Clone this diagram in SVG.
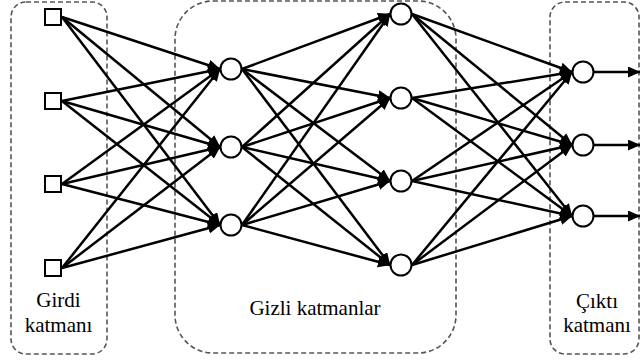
<svg xmlns="http://www.w3.org/2000/svg" width="640" height="360" viewBox="0 0 640 360">
<defs>
<marker id="ah" markerUnits="userSpaceOnUse" markerWidth="14" markerHeight="12" refX="12" refY="5.5" orient="auto">
<path d="M0,0 L12.5,5.5 L0,11 Z" fill="#000"/>
</marker>
<style>
.grp{fill:none;stroke:#555;stroke-width:1.6;stroke-dasharray:5,3}
.c{stroke:#000;stroke-width:2.5;fill:none;marker-end:url(#ah)}
.n{fill:#fff;stroke:#000;stroke-width:2}
.t{font-size:21px;fill:#000;text-anchor:middle}
</style>
</defs>
<rect width="640" height="360" fill="#fff"/>
<g id="groups">
<rect class="grp" x="11" y="2" width="96" height="352" rx="15"/>
<rect class="grp" x="175" y="1" width="281" height="352" rx="38"/>
<rect class="grp" x="550" y="2" width="89" height="352" rx="15"/>
</g>
<g id="connectors">
<line class="c" x1="62" y1="17" x2="220" y2="69"/>
<line class="c" x1="62" y1="17" x2="220" y2="147"/>
<line class="c" x1="62" y1="17" x2="220" y2="225"/>
<line class="c" x1="62" y1="101" x2="220" y2="69"/>
<line class="c" x1="62" y1="101" x2="220" y2="147"/>
<line class="c" x1="62" y1="101" x2="220" y2="225"/>
<line class="c" x1="62" y1="184" x2="220" y2="69"/>
<line class="c" x1="62" y1="184" x2="220" y2="147"/>
<line class="c" x1="62" y1="184" x2="220" y2="225"/>
<line class="c" x1="62" y1="268" x2="220" y2="69"/>
<line class="c" x1="62" y1="268" x2="220" y2="147"/>
<line class="c" x1="62" y1="268" x2="220" y2="225"/>
<line class="c" x1="242" y1="69" x2="390" y2="14"/>
<line class="c" x1="242" y1="69" x2="390" y2="98"/>
<line class="c" x1="242" y1="69" x2="390" y2="181"/>
<line class="c" x1="242" y1="69" x2="390" y2="265"/>
<line class="c" x1="242" y1="147" x2="390" y2="14"/>
<line class="c" x1="242" y1="147" x2="390" y2="98"/>
<line class="c" x1="242" y1="147" x2="390" y2="181"/>
<line class="c" x1="242" y1="147" x2="390" y2="265"/>
<line class="c" x1="242" y1="225" x2="390" y2="14"/>
<line class="c" x1="242" y1="225" x2="390" y2="98"/>
<line class="c" x1="242" y1="225" x2="390" y2="181"/>
<line class="c" x1="242" y1="225" x2="390" y2="265"/>
<line class="c" x1="412" y1="14" x2="572" y2="72"/>
<line class="c" x1="412" y1="14" x2="572" y2="145"/>
<line class="c" x1="412" y1="14" x2="572" y2="216"/>
<line class="c" x1="412" y1="98" x2="572" y2="72"/>
<line class="c" x1="412" y1="98" x2="572" y2="145"/>
<line class="c" x1="412" y1="98" x2="572" y2="216"/>
<line class="c" x1="412" y1="181" x2="572" y2="72"/>
<line class="c" x1="412" y1="181" x2="572" y2="145"/>
<line class="c" x1="412" y1="181" x2="572" y2="216"/>
<line class="c" x1="412" y1="265" x2="572" y2="72"/>
<line class="c" x1="412" y1="265" x2="572" y2="145"/>
<line class="c" x1="412" y1="265" x2="572" y2="216"/>
<line class="c" x1="594" y1="72" x2="640" y2="72"/>
<line class="c" x1="594" y1="145" x2="640" y2="145"/>
<line class="c" x1="594" y1="216" x2="640" y2="216"/>
</g>
<g id="in1"><rect class="n" x="45" y="9" width="16" height="16"/></g>
<g id="in2"><rect class="n" x="45" y="93" width="16" height="16"/></g>
<g id="in3"><rect class="n" x="45" y="176" width="16" height="16"/></g>
<g id="in4"><rect class="n" x="45" y="260" width="16" height="16"/></g>
<g id="h1a"><circle class="n" cx="231" cy="69" r="10.5"/></g>
<g id="h1b"><circle class="n" cx="231" cy="147" r="10.5"/></g>
<g id="h1c"><circle class="n" cx="231" cy="225" r="10.5"/></g>
<g id="h2a"><circle class="n" cx="401" cy="14" r="10.5"/></g>
<g id="h2b"><circle class="n" cx="401" cy="98" r="10.5"/></g>
<g id="h2c"><circle class="n" cx="401" cy="181" r="10.5"/></g>
<g id="h2d"><circle class="n" cx="401" cy="265" r="10.5"/></g>
<g id="o1"><circle class="n" cx="583" cy="72" r="10.5"/></g>
<g id="o2"><circle class="n" cx="583" cy="145" r="10.5"/></g>
<g id="o3"><circle class="n" cx="583" cy="216" r="10.5"/></g>
<g id="labels" font-family="'Liberation Serif', 'Times New Roman', 'DejaVu Serif', serif">
<text class="t" x="58.5" y="307">Girdi</text>
<text class="t" x="58.5" y="332">katmanı</text>
<text class="t" x="315" y="315">Gizli katmanlar</text>
<text class="t" x="597" y="308">Çıktı</text>
<text class="t" x="597" y="332">katmanı</text>
</g>
</svg>
